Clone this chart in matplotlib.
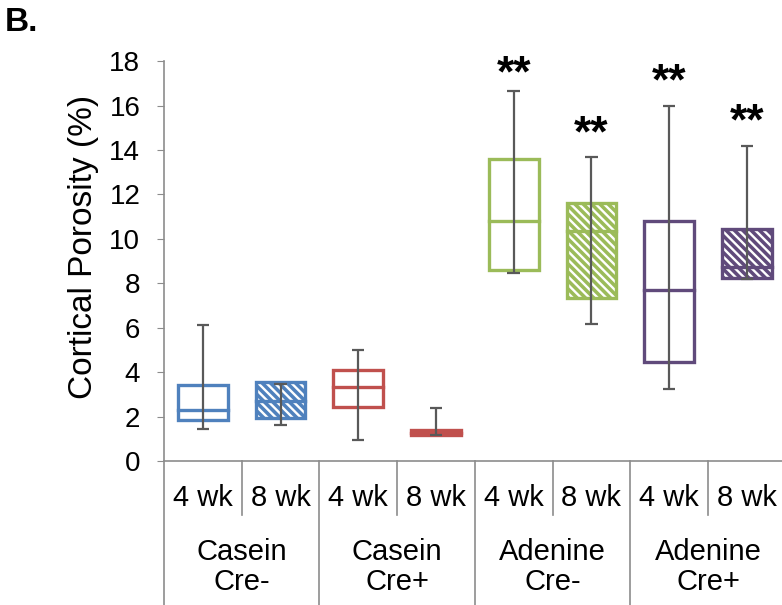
import numpy as np
import matplotlib.pyplot as plt

plt.rcParams['font.family'] = ['Liberation Sans', 'DejaVu Sans']
plt.rcParams['hatch.linewidth'] = 1.7

groups = ['Casein\nCre-', 'Casein\nCre+', 'Adenine\nCre-', 'Adenine\nCre+']
weeks = ['4 wk', '8 wk']
whisk_lo = [1.45, 1.6, 0.95, 1.17, 8.45, 6.15, 3.25, 8.2]
q1 = [1.85, 1.95, 2.45, 1.15, 8.6, 7.35, 4.45, 8.25]
median = [2.3, 2.7, 3.35, 1.25, 10.8, 10.35, 7.7, 8.75]
q3 = [3.4, 3.55, 4.1, 1.4, 13.6, 11.6, 10.8, 10.45]
whisk_hi = [6.1, 3.45, 5.0, 2.4, 16.65, 13.7, 16.0, 14.2]
colors = ['#4F81BD', '#4F81BD', '#C0504D', '#C0504D',
          '#9BBB59', '#9BBB59', '#604A7B', '#604A7B']
star_pos = [4, 5, 6, 7]
star_y = [17.4, 14.7, 17.0, 15.2]

fig = plt.figure(figsize=(7.82, 6.05), dpi=100)
ax = fig.add_axes([0.2097, 0.238, 0.795, 0.661])

x = np.arange(len(q1))
w = 0.64
axis_col = '#8C8C8C'
for i in x:
    c = colors[i]
    if i % 2 == 1:
        ax.bar(i, q3[i] - q1[i], bottom=q1[i], width=w, facecolor=c,
               edgecolor='white', hatch='\\\\\\\\', linewidth=0, zorder=2)
    ax.bar(i, q3[i] - q1[i], bottom=q1[i], width=w, facecolor='none',
           edgecolor=c, linewidth=2.4, zorder=3)
    ax.plot([i - w / 2, i + w / 2], [median[i], median[i]], color=c, lw=2.4, zorder=3)
    ax.vlines(i, whisk_lo[i], whisk_hi[i], color='#595959', lw=1.6, zorder=4)
    ax.hlines([whisk_lo[i], whisk_hi[i]], i - 0.08, i + 0.08, color='#595959', lw=1.6, zorder=4)

for p, y in zip(star_pos, star_y):
    ax.text(p, y, '**', ha='center', va='center', fontsize=32, fontweight='bold')

ax.set_xlim(-0.5, 7.5)
ax.set_ylim(0, 18)
ax.set_yticks(np.arange(0, 19, 2))
ax.tick_params(axis='y', labelsize=20, length=5, color=axis_col, pad=12)
ax.set_xticks([])
for s in ['top', 'right']:
    ax.spines[s].set_visible(False)
for s in ['left', 'bottom']:
    ax.spines[s].set_color(axis_col)
    ax.spines[s].set_linewidth(1.2)
ax.set_ylabel('Cortical Porosity (%)', fontsize=24)
ax.yaxis.set_label_coords(-0.104, 0.535)

tr = ax.get_xaxis_transform()
for k in range(len(x) + 1):
    b = k - 0.5
    y_end = -0.36 if k % 2 == 0 else -0.135
    ax.plot([b, b], [0, y_end], color=axis_col, lw=1.2, transform=tr, clip_on=False)
for i in x:
    ax.text(i, -0.093, weeks[i % 2], transform=tr, ha='center', va='center', fontsize=21)
for g, name in enumerate(groups):
    ax.text(2 * g + 0.5, -0.266, name, transform=tr, ha='center', va='center',
            fontsize=21, linespacing=1.1)

fig.text(0.006, 0.988, 'B.', fontsize=24, fontweight='bold', ha='left', va='top')

fig.savefig('out.png', dpi=100)
